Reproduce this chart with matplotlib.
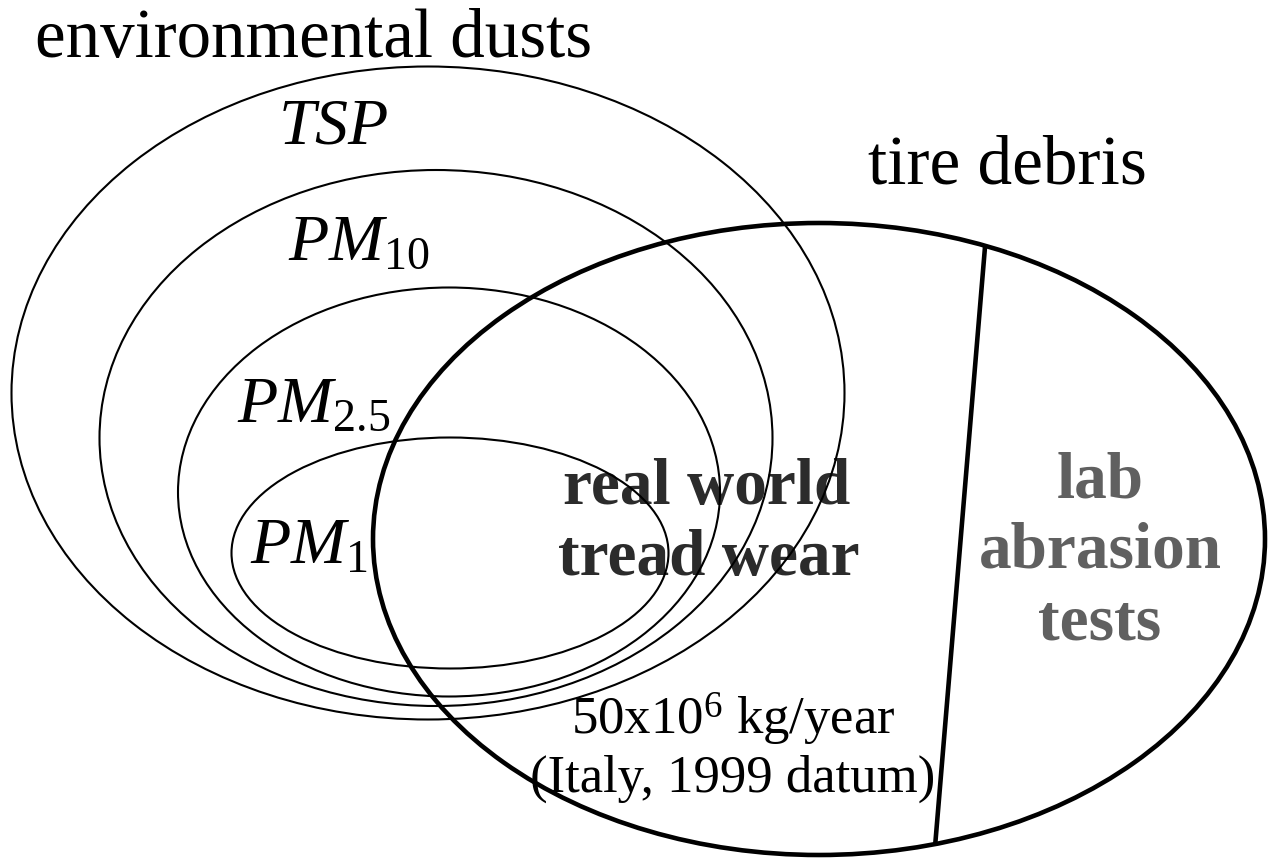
import matplotlib
matplotlib.use("Agg")
import matplotlib.pyplot as plt
from matplotlib.patches import Ellipse
from matplotlib.lines import Line2D

plt.rcParams['font.family'] = ['Liberation Serif', 'DejaVu Serif']
plt.rcParams['mathtext.fontset'] = 'custom'
plt.rcParams['mathtext.rm'] = 'Liberation Serif'
plt.rcParams['mathtext.it'] = 'Liberation Serif:italic'
plt.rcParams['mathtext.bf'] = 'Liberation Serif:bold'

# ---- data (diagram geometry in image pixel units) ----
dust_names = ["TSP", "PM10", "PM2.5", "PM1"]
dust_labels = [r"$\mathit{TSP}$", r"$\mathit{PM}_{\mathrm{10}}$",
               r"$\mathit{PM}_{\mathrm{2.5}}$", r"$\mathit{PM}_{\mathrm{1}}$"]
dust_cx = [428, 436, 449, 450]
dust_cy = [393, 438, 492, 553]
dust_w = [833, 673, 542, 437]
dust_h = [653, 536, 409, 231]
dust_label_x = [278, 288, 237, 250]
dust_label_y = [143, 260, 422, 563]

tire_cx, tire_cy, tire_w, tire_h = 819, 539, 892, 632
divider_x = [985, 935]
divider_y = [247, 847]

W, H = 1268, 861
fig = plt.figure(figsize=(W / 100, H / 100), dpi=100)
ax = fig.add_axes([0, 0, 1, 1])
ax.set_xlim(0, W)
ax.set_ylim(H, 0)
ax.axis('off')

# dust ellipses
for cx, cy, w, h in zip(dust_cx, dust_cy, dust_w, dust_h):
    ax.add_patch(Ellipse((cx, cy), w, h, fill=False, ec='black', lw=1.5, zorder=3))

# tire debris ellipse
tire = Ellipse((tire_cx, tire_cy), tire_w, tire_h, fill=False, ec='black', lw=3.3, zorder=4)
ax.add_patch(tire)

# divider line (extended, clipped by the tire ellipse)
dx = divider_x[1] - divider_x[0]
dy = divider_y[1] - divider_y[0]
ext = 0.2
lx = [divider_x[0] - ext * dx, divider_x[1] + ext * dx]
ly = [divider_y[0] - ext * dy, divider_y[1] + ext * dy]
clip_e = Ellipse((tire_cx, tire_cy), tire_w, tire_h, transform=ax.transData)
line = Line2D(lx, ly, color='black', lw=3.3, zorder=4)
ax.add_line(line)
line.set_clip_path(clip_e)

# texts
ax.text(35, 57, "environmental dusts", fontsize=49.6, ha='left', va='baseline', zorder=5)
ax.text(868, 183, "tire debris", fontsize=49.8, ha='left', va='baseline', zorder=5)
for lab, x, y in zip(dust_labels, dust_label_x, dust_label_y):
    ax.text(x, y, lab, fontsize=47.5, ha='left', va='baseline', zorder=5)

ax.text(707, 504, "real world", fontsize=47, fontweight='bold', color='#2b2b2b',
        ha='center', va='baseline', zorder=1)
ax.text(709, 575, "tread wear", fontsize=47, fontweight='bold', color='#2b2b2b',
        ha='center', va='baseline', zorder=1)

for s, y in zip(["lab", "abrasion", "tests"], [498, 568, 640]):
    ax.text(1100, y, s, fontsize=47, fontweight='bold', color='#606060',
            ha='center', va='baseline', zorder=5)

ax.text(733, 735, r"50x10$^{6}$ kg/year", fontsize=38, ha='center', va='baseline', zorder=5)
ax.text(733, 792, "(Italy, 1999 datum)", fontsize=38, ha='center', va='baseline', zorder=5)

fig.savefig("out.png", dpi=100, facecolor='white')
